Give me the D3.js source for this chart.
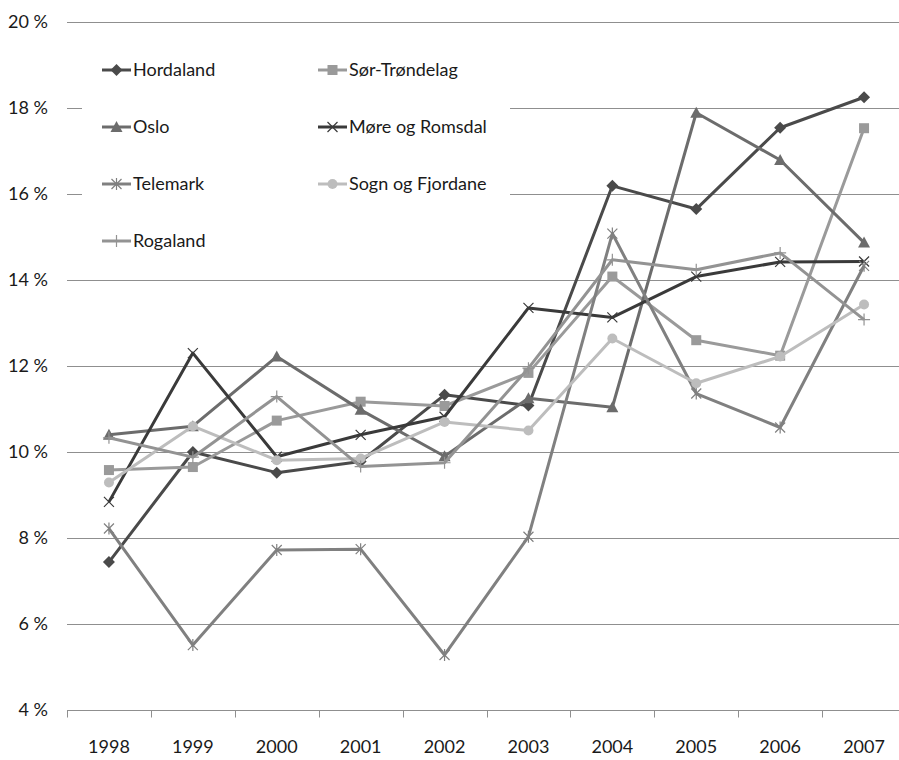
<!DOCTYPE html>
<html>
<head>
<meta charset="utf-8">
<script src="https://cdn.jsdelivr.net/npm/d3@7"></script>
<style>
  html, body { margin: 0; padding: 0; background: #fff; }
  #chart { width: 899px; height: 760px; }
  text { font-family: Lato, "Open Sans", sans-serif; fill: #1a1a1a; }
</style>
</head>
<body>
<div id="chart"></div>
<script>
// data
const years = ["1998", "1999", "2000", "2001", "2002", "2003", "2004", "2005", "2006", "2007"];
const yTicks = [4, 6, 8, 10, 12, 14, 16, 18, 20];

const hordaland    = [7.44, 10.0, 9.52, 9.78, 11.33, 11.08, 16.19, 15.65, 17.54, 18.25];
const sorTrondelag = [9.58, 9.65, 10.73, 11.17, 11.07, 11.84, 14.08, 12.6, 12.24, 17.53];
const oslo         = [10.4, 10.6, 12.22, 10.98, 9.9, 11.25, 11.04, 17.89, 16.79, 14.87];
const moreRomsdal  = [8.84, 12.3, 9.89, 10.4, 10.82, 13.35, 13.13, 14.08, 14.42, 14.43];
const telemark     = [8.22, 5.51, 7.72, 7.74, 5.28, 8.03, 15.08, 11.36, 10.57, 14.33];
const sognFjordane = [9.29, 10.6, 9.81, 9.85, 10.7, 10.5, 12.64, 11.6, 12.22, 13.43];
const rogaland     = [10.33, 9.88, 11.29, 9.66, 9.75, 11.95, 14.47, 14.24, 14.63, 13.08];

const series = [
  { name: "Hordaland", values: hordaland, color: "#4a4a4a", marker: "diamond" },
  { name: "Sør-Trøndelag", values: sorTrondelag, color: "#9a9a9a", marker: "square" },
  { name: "Oslo", values: oslo, color: "#6c6c6c", marker: "triangle" },
  { name: "Møre og Romsdal", values: moreRomsdal, color: "#3a3a3a", marker: "x" },
  { name: "Telemark", values: telemark, color: "#808080", marker: "star" },
  { name: "Sogn og Fjordane", values: sognFjordane, color: "#bdbdbd", marker: "circle" },
  { name: "Rogaland", values: rogaland, color: "#939393", marker: "plus" }
];

const width = 899, height = 760;
const svg = d3.select("#chart").append("svg")
  .attr("width", width)
  .attr("height", height);

const margin = { left: 67, right: -7, top: 22, bottom: 50 };

const xBand = d3.scaleBand()
  .domain(years)
  .range([margin.left, width - margin.right]);
const x = d => xBand(d) + xBand.bandwidth() / 2;

const y = d3.scaleLinear()
  .domain([4, 20])
  .range([height - margin.bottom, margin.top]);

// gridlines
svg.append("g")
  .selectAll("line")
  .data(yTicks.slice(1))
  .join("line")
    .attr("x1", margin.left)
    .attr("x2", width)
    .attr("y1", d => Math.round(y(d)) + 0.5)
    .attr("y2", d => Math.round(y(d)) + 0.5)
    .attr("stroke", "#8f8f8f")
    .attr("stroke-width", 1);

// y labels
svg.append("g")
  .selectAll("text")
  .data(yTicks)
  .join("text")
    .attr("x", 48)
    .attr("y", d => y(d))
    .attr("dy", "0.35em")
    .attr("text-anchor", "end")
    .attr("font-size", 18)
    .text(d => d + " %");

// x axis: baseline, ticks between categories
const base = Math.round(y(4)) + 0.5;
const xAxis = svg.append("g");
xAxis.append("line")
  .attr("x1", margin.left).attr("x2", width)
  .attr("y1", base).attr("y2", base)
  .attr("stroke", "#8f8f8f");
xAxis.selectAll(".tick")
  .data(years)
  .join("line")
    .attr("x1", d => Math.round(xBand(d)) + 0.5)
    .attr("x2", d => Math.round(xBand(d)) + 0.5)
    .attr("y1", base)
    .attr("y2", base + 7)
    .attr("stroke", "#8f8f8f");
xAxis.selectAll("text")
  .data(years)
  .join("text")
    .attr("x", d => x(d))
    .attr("y", base + 42)
    .attr("text-anchor", "middle")
    .attr("font-size", 18)
    .text(d => d);

// marker shapes
function drawMarker(g, type, color) {
  const s = 5;
  if (type === "diamond") {
    g.append("path").attr("d", `M0,${-s - 1}L${s + 1},0L0,${s + 1}L${-s - 1},0Z`).attr("fill", color);
  } else if (type === "square") {
    g.append("rect").attr("x", -s).attr("y", -s).attr("width", 2 * s).attr("height", 2 * s).attr("fill", color);
  } else if (type === "triangle") {
    g.append("path").attr("d", `M0,${-s - 1}L${s + 1},${s}L${-s - 1},${s}Z`).attr("fill", color);
  } else if (type === "circle") {
    g.append("circle").attr("r", s).attr("fill", color);
  } else if (type === "x") {
    g.append("path").attr("d", `M${-s},${-s}L${s},${s}M${s},${-s}L${-s},${s}`)
      .attr("stroke", color).attr("stroke-width", 1.2).attr("fill", "none");
  } else if (type === "star") {
    g.append("path").attr("d", `M${-s},${-s}L${s},${s}M${s},${-s}L${-s},${s}M0,${-s - 1}L0,${s + 1}`)
      .attr("stroke", color).attr("stroke-width", 1.2).attr("fill", "none");
  } else if (type === "plus") {
    g.append("path").attr("d", `M0,${-s - 1}L0,${s + 1}M${-s - 1},0L${s + 1},0`)
      .attr("stroke", color).attr("stroke-width", 1.2).attr("fill", "none");
  }
}

const line = d3.line()
  .x((d, i) => x(years[i]))
  .y(d => y(d));

series.forEach(s => {
  const g = svg.append("g");
  g.append("path")
    .datum(s.values)
    .attr("d", line)
    .attr("fill", "none")
    .attr("stroke", s.color)
    .attr("stroke-width", 3)
    .attr("stroke-linejoin", "round");
  g.selectAll(".m")
    .data(s.values)
    .join("g")
      .attr("transform", (d, i) => `translate(${x(years[i])},${y(d)})`)
      .each(function () { drawMarker(d3.select(this), s.marker, s.color); });
});

// legend (white box over the gridlines)
const legend = svg.append("g");
legend.append("rect")
  .attr("x", 82).attr("y", 38)
  .attr("width", 428).attr("height", 226)
  .attr("fill", "#fff");
series.forEach((s, i) => {
  const col = i % 2, row = Math.floor(i / 2);
  const lx = col === 0 ? 102 : 318;
  const ly = 70 + row * 57;
  const item = legend.append("g").attr("transform", `translate(${lx},${ly})`);
  item.append("line")
    .attr("x1", 0).attr("x2", 29)
    .attr("stroke", s.color).attr("stroke-width", 3);
  drawMarker(item.append("g").attr("transform", "translate(14.5,0)"), s.marker, s.color);
  item.append("text")
    .attr("x", 31)
    .attr("dy", "0.35em")
    .attr("font-size", 18)
    .text(s.name);
});
</script>
</body>
</html>
